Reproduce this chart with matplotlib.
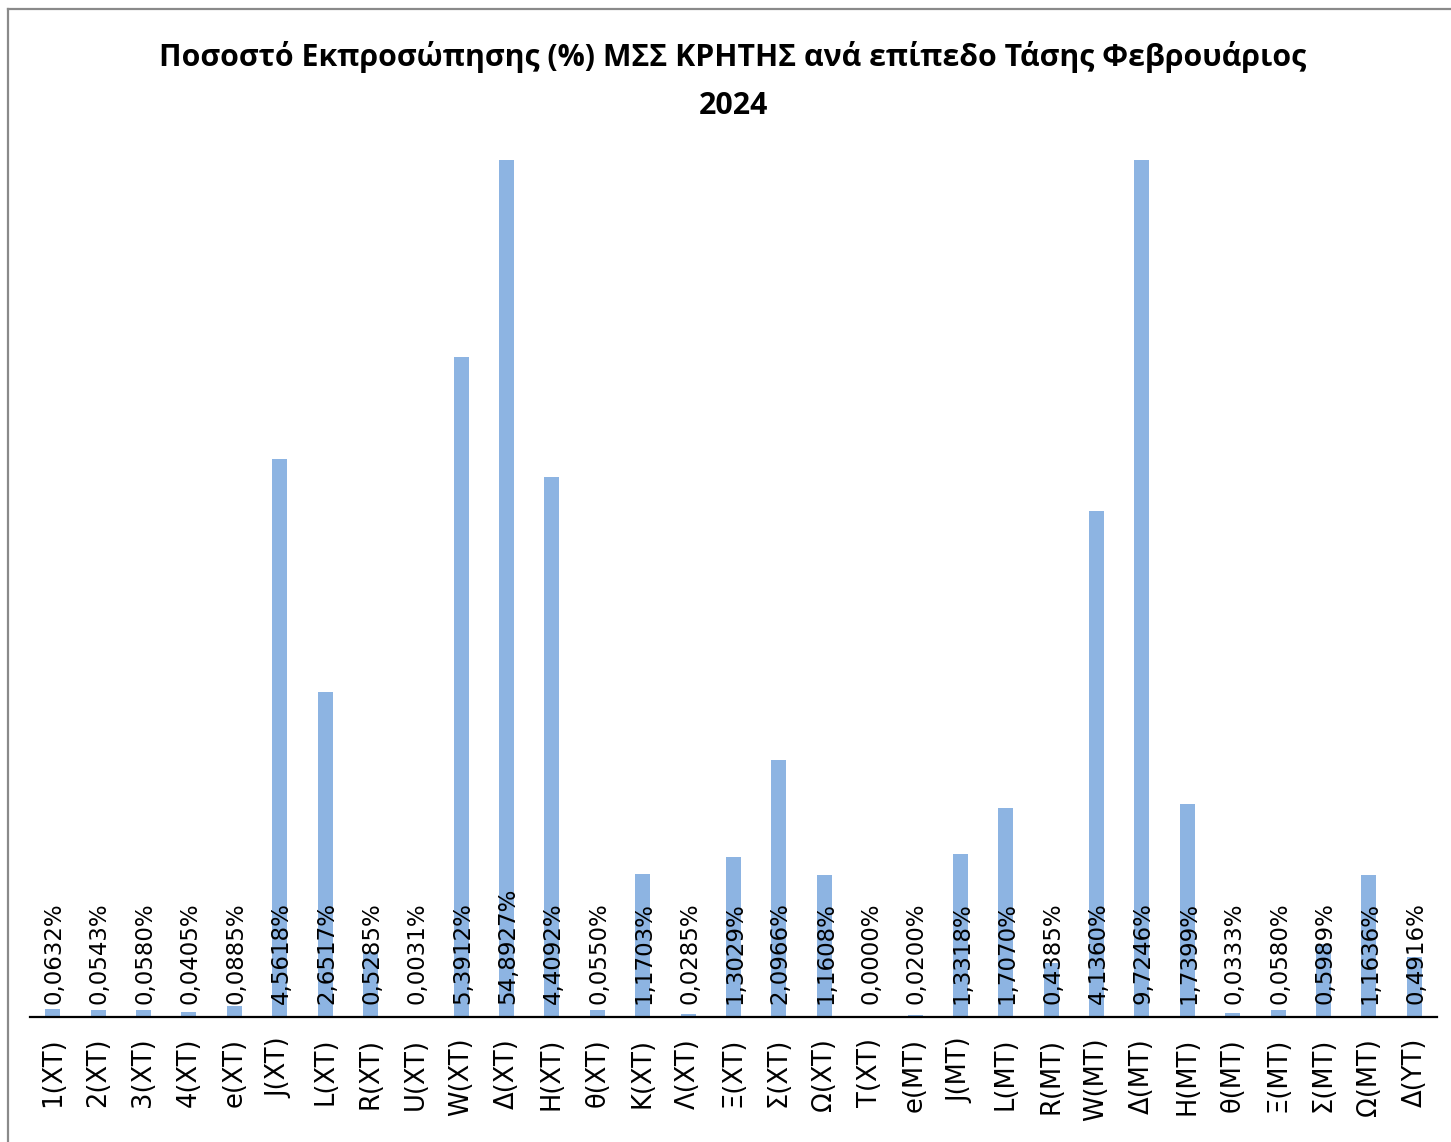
import matplotlib.pyplot as plt
from matplotlib.lines import Line2D

# Κατηγορίες και ποσοστά εκπροσώπησης (%)
categories = ["1(XT)", "2(XT)", "3(XT)", "4(XT)", "e(XT)", "J(XT)", "L(XT)", "R(XT)",
              "U(XT)", "W(XT)", "Δ(XT)", "H(XT)", "θ(XT)", "K(XT)", "Λ(XT)", "Ξ(XT)",
              "Σ(XT)", "Ω(XT)", "T(XT)", "e(MT)", "J(MT)", "L(MT)", "R(MT)", "W(MT)",
              "Δ(MT)", "H(MT)", "θ(MT)", "Ξ(MT)", "Σ(MT)", "Ω(MT)", "Δ(YT)"]
values = [0.0632, 0.0543, 0.0580, 0.0405, 0.0885, 4.5618, 2.6517, 0.5285,
          0.0031, 5.3912, 54.8927, 4.4092, 0.0550, 1.1703, 0.0285, 1.3029,
          2.0966, 1.1608, 0.0000, 0.0200, 1.3318, 1.7070, 0.4385, 4.1360,
          9.7246, 1.7399, 0.0333, 0.0580, 0.5989, 1.1636, 0.4916]
title_lines = ["Ποσοστό Εκπροσώπησης (%) ΜΣΣ ΚΡΗΤΗΣ ανά επίπεδο Τάσης Φεβρουάριος", "2024"]

plt.rcParams["font.family"] = ["DejaVu Sans"]

W, H = 1451, 1142
fig = plt.figure(figsize=(W / 100, H / 100), dpi=100)
ax = fig.add_axes([30 / W, 1 - 1017 / H, (1437 - 30) / W, (1017 - 160) / H])

x = range(len(categories))
ax.bar(x, values, width=0.33, color="#8DB4E2", zorder=2)
ax.set_xlim(-0.5, len(categories) - 0.5)
ax.set_ylim(0, 7)

# ετικέτες τιμών μέσα στη βάση
for xi, v in zip(x, values):
    ax.annotate(f"{v:.4f}%".replace(".", ","), (xi, 0), xytext=(1, 9),
                textcoords="offset points", rotation=90, ha="center", va="bottom",
                fontsize=16.5, color="black", annotation_clip=False, zorder=3)

ax.set_xticks(list(x))
ax.set_xticklabels(categories, rotation=90, fontsize=18.5)
ax.tick_params(axis="x", length=0, pad=15)
ax.set_yticks([])
for s in ["left", "right", "top"]:
    ax.spines[s].set_visible(False)
ax.spines["bottom"].set_linewidth(1.6)
ax.spines["bottom"].set_color("black")
ax.spines["bottom"].set_zorder(4)

title_font = ["Open Sans", "DejaVu Sans"]
fig.text(733 / W, 1 - 57 / H, title_lines[0], ha="center", va="center",
         fontsize=21.8, fontweight="bold", family=title_font)
fig.text(733 / W, 1 - 106 / H, title_lines[1], ha="center", va="center",
         fontsize=21.8, fontweight="bold", family=title_font)

# γκρι πλαίσιο (αριστερά και πάνω)
fig.add_artist(Line2D([8 / W, 8 / W], [0, 1 - 9 / H], color="#8a8a8a", lw=1.6,
                      transform=fig.transFigure))
fig.add_artist(Line2D([8 / W, 1], [1 - 9 / H, 1 - 9 / H], color="#8a8a8a", lw=1.6,
                      transform=fig.transFigure))

fig.savefig("out.png", dpi=100)
